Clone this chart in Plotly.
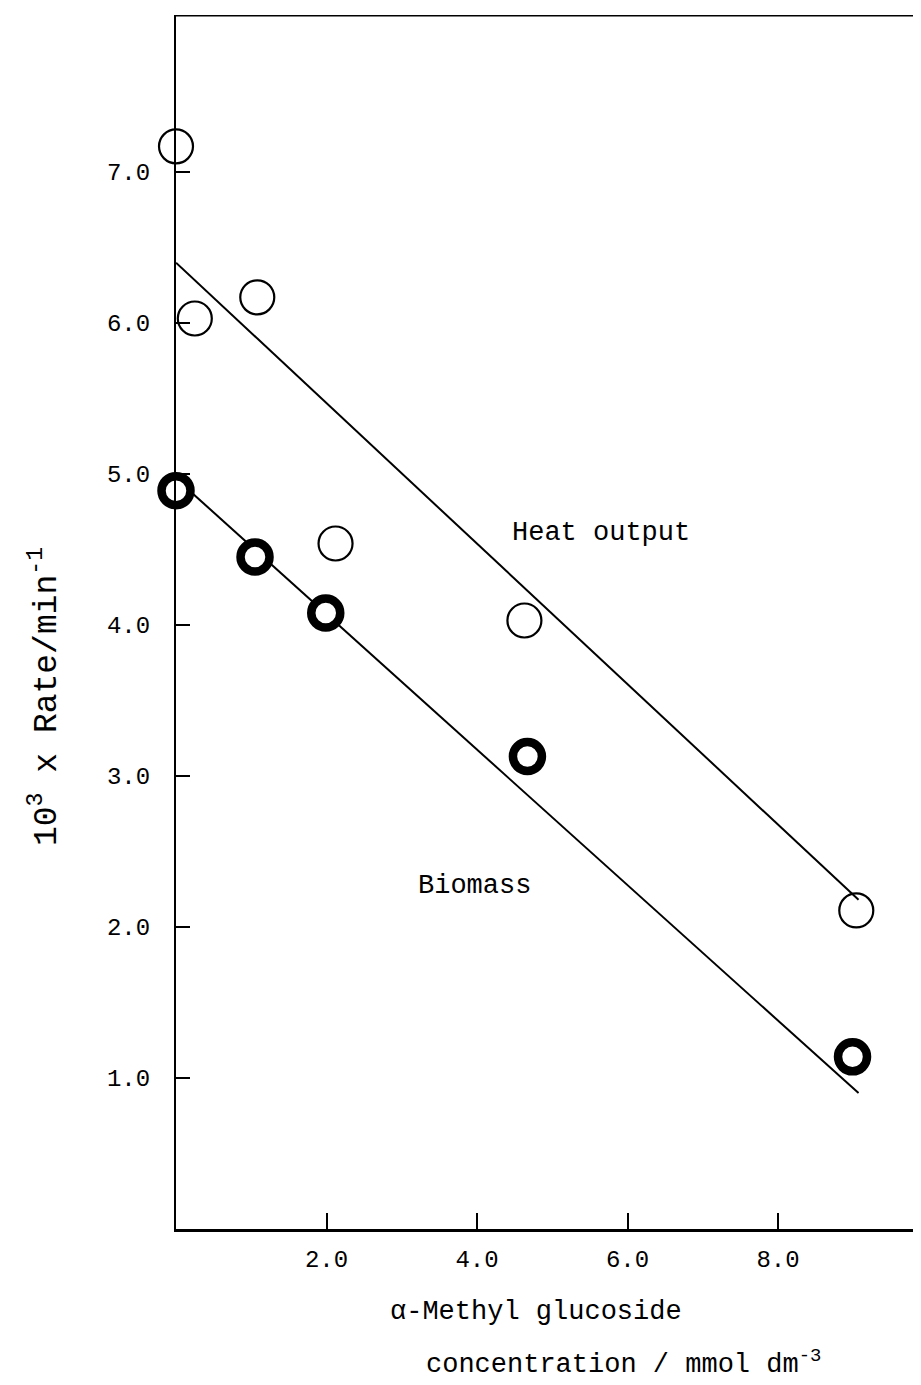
import plotly.graph_objects as go

# Data
heat_x = [0.0, 0.25, 1.08, 2.12, 4.63, 9.04]
heat_y = [7.17, 6.03, 6.17, 4.54, 4.03, 2.11]
bio_x = [0.0, 1.05, 1.99, 4.67, 8.99]
bio_y = [4.89, 4.45, 4.08, 3.13, 1.14]
heat_line_x = [0.0, 9.07]
heat_line_y = [6.40, 2.18]
bio_line_x = [0.0, 9.07]
bio_line_y = [4.97, 0.90]
x_ticks = [2, 4, 6, 8]
x_tick_labels = ["2.0", "4.0", "6.0", "8.0"]
y_ticks = [1, 2, 3, 4, 5, 6, 7]
y_tick_labels = ["1.0", "2.0", "3.0", "4.0", "5.0", "6.0", "7.0"]

FONT = "Liberation Mono"
W, H = 913, 1377
L, T, B = 168, 7, 156
PW = W - L
PH = H - T - B
X_MAX, Y_MAX = 9.9, 8.04
OFF = 8  # page offset of the plot


def px_x(p):
    return (p - OFF - L) / PW


def px_y(p):
    return (H - B + OFF - p) / PH


fig = go.Figure()
fig.add_trace(go.Scatter(x=heat_line_x, y=heat_line_y, mode="lines",
                         line=dict(color="black", width=2), showlegend=False, hoverinfo="skip"))
fig.add_trace(go.Scatter(x=bio_line_x, y=bio_line_y, mode="lines",
                         line=dict(color="black", width=2), showlegend=False, hoverinfo="skip"))
fig.add_trace(go.Scatter(x=heat_x, y=heat_y, mode="markers", name="Heat output",
                         marker=dict(symbol="circle-open", size=34, color="black",
                                     line=dict(color="black", width=2.2)),
                         cliponaxis=False, showlegend=False))
fig.add_trace(go.Scatter(x=bio_x, y=bio_y, mode="markers", name="Biomass",
                         marker=dict(symbol="circle", size=29, color="white",
                                     line=dict(color="black", width=8.5)),
                         cliponaxis=False, showlegend=False))

fig.update_layout(
    width=W, height=H,
    margin=dict(l=L, r=0, t=T, b=B),
    plot_bgcolor="white", paper_bgcolor="white",
    font=dict(family=FONT, size=24, color="black"),
    xaxis=dict(range=[0, X_MAX], tickvals=x_ticks, ticktext=x_tick_labels,
               ticks="inside", ticklen=16, tickwidth=2, tickcolor="black",
               showline=True, linecolor="black", linewidth=3, showgrid=False,
               zeroline=False, tickfont=dict(family=FONT, size=24), ticklabelstandoff=6),
    yaxis=dict(range=[0, Y_MAX], tickvals=y_ticks, ticktext=y_tick_labels,
               ticks="inside", ticklen=14, tickwidth=2, tickcolor="black",
               showline=True, linecolor="black", linewidth=2, showgrid=False,
               zeroline=False, tickfont=dict(family=FONT, size=24), ticklabelstandoff=19),
    shapes=[dict(type="line", xref="x", yref="y", x0=0, x1=X_MAX, y0=Y_MAX, y1=Y_MAX,
                 line=dict(color="black", width=3))],
    annotations=[
        dict(x=px_x(45), y=px_y(697), xref="paper", yref="paper", textangle=-90,
             xanchor="center", yanchor="middle", showarrow=False,
             text="10<sup>3</sup> x Rate/min<sup>-1</sup>", font=dict(family=FONT, size=33)),
        dict(x=5.65, y=4.61, xref="x", yref="y", text="Heat output", showarrow=False,
             font=dict(family=FONT, size=27)),
        dict(x=3.96, y=2.27, xref="x", yref="y", text="Biomass", showarrow=False,
             font=dict(family=FONT, size=27)),
        dict(x=px_x(388), y=px_y(1312), xref="paper", yref="paper",
             xanchor="left", yanchor="middle", text="α-Methyl glucoside", showarrow=False,
             font=dict(family=FONT, size=27)),
        dict(x=px_x(424), y=px_y(1362), xref="paper", yref="paper",
             xanchor="left", yanchor="middle", text="concentration / mmol dm<sup>-3</sup>",
             showarrow=False, font=dict(family=FONT, size=27)),
    ],
)

fig.write_html("out.html")
